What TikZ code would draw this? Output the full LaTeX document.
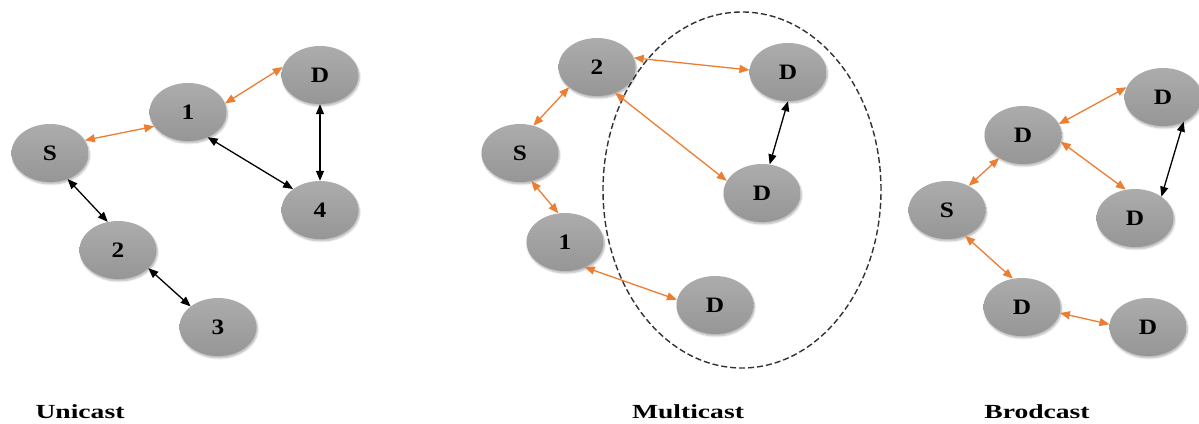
\documentclass[tikz,border=0pt]{standalone}
\usepackage{fontspec}
\setmainfont{Liberation Serif}
\usetikzlibrary{arrows.meta,shadows.blur,shapes.geometric}
\definecolor{org}{RGB}{237,125,49}
\definecolor{ntop}{RGB}{172,172,172}
\definecolor{nbot}{RGB}{150,150,150}
\definecolor{dashcol}{RGB}{50,50,50}
\tikzset{
  nd/.style={ellipse, minimum width=77pt, minimum height=58pt, inner sep=0pt,
    top color=ntop, bottom color=nbot, draw=none,
    blur shadow={shadow xshift=1pt, shadow yshift=-2pt, shadow opacity=30, shadow blur steps=6},
    font=\fontsize{22}{24}\selectfont\bfseries},
  lk/.style={line width=1.3pt, {Triangle[length=10pt,width=8pt]}-{Triangle[length=10pt,width=8pt]}},
  ol/.style={lk, draw=org},
  bl/.style={lk, draw=black},
  captxt/.style={anchor=base, font=\fontsize{20}{22}\selectfont\bfseries},
  grp/.style={draw=dashcol, dashed, dash pattern=on 6pt off 3pt, line width=1.4pt}
}
\newcommand{\lab}[1]{\scalebox{1.15}[1]{#1}}
\newcommand{\cpt}[1]{\scalebox{1.38}[1]{#1}}
\begin{document}
\begin{tikzpicture}[x=1pt,y=-1pt]
\useasboundingbox (0,0) rectangle (1199,423);
% Unicast
\node[nd] (uS) at (50,153) {\lab{S}};
\node[nd] (u1) at (188,112) {\lab{1}};
\node[nd] (uD) at (320,75) {\lab{D}};
\node[nd] (u4) at (320,210) {\lab{4}};
\node[nd] (u2) at (118,250) {\lab{2}};
\node[nd] (u3) at (218,327) {\lab{3}};
\draw[ol] (uS.20) -- (u1.-157);
\draw[ol] (u1.13) -- (uD.168);
\draw[bl] (u1.-52) -- (u4.142);
\draw[bl] (uD.-90) -- (u4.90);
\draw[bl] (uS.-56) -- (u2.110);
\draw[bl] (u2.-31) -- (u3.143);
% Multicast
\node[grp, ellipse, minimum width=278pt, minimum height=356pt, inner sep=0pt] (grp) at (742,190) {};
\node[nd] (m2) at (597,67) {\lab{2}};
\node[nd] (mDt) at (788,72) {\lab{D}};
\node[nd] (mS) at (520,153) {\lab{S}};
\node[nd] (mDm) at (762,193) {\lab{D}};
\node[nd] (m1) at (565,242) {\lab{1}};
\node[nd] (mDb) at (715,305) {\lab{D}};
\draw[ol] (m2.14) -- (mDt.177);
\draw[ol] (m2.-55) -- (mDm.161);
\draw[bl] (mDt.-90) -- (mDm.75);
\draw[ol] (mS.64) -- (m2.-144);
\draw[ol] (mS.-68) -- (m1.103);
\draw[ol] (m1.-52) -- (mDb.172);
% Broadcast
\node[nd] (bD1) at (1023,135) {\lab{D}};
\node[nd] (bDtr) at (1163,97) {\lab{D}};
\node[nd] (bS) at (947,210) {\lab{S}};
\node[nd] (bDmr) at (1135,218) {\lab{D}};
\node[nd] (bDb) at (1022,307) {\lab{D}};
\node[nd] (bDbr) at (1148,327) {\lab{D}};
\draw[ol] (bD1.17) -- (bDtr.165);
\draw[ol] (bD1.-10) -- (bDmr.108);
\draw[bl] (bDtr.-50) -- (bDmr.39);
\draw[ol] (bS.48) -- (bD1.-136);
\draw[ol] (bS.-55) -- (bDb.108);
\draw[ol] (bDb.-9) -- (bDbr.176);
% captions
\node[captxt] (c1) at (80,418) {\cpt{Unicast}};
\node[captxt] (c2) at (688,418) {\cpt{Multicast}};
\node[captxt] (c3) at (1037,418) {\cpt{Brodcast}};
\end{tikzpicture}
\end{document}
